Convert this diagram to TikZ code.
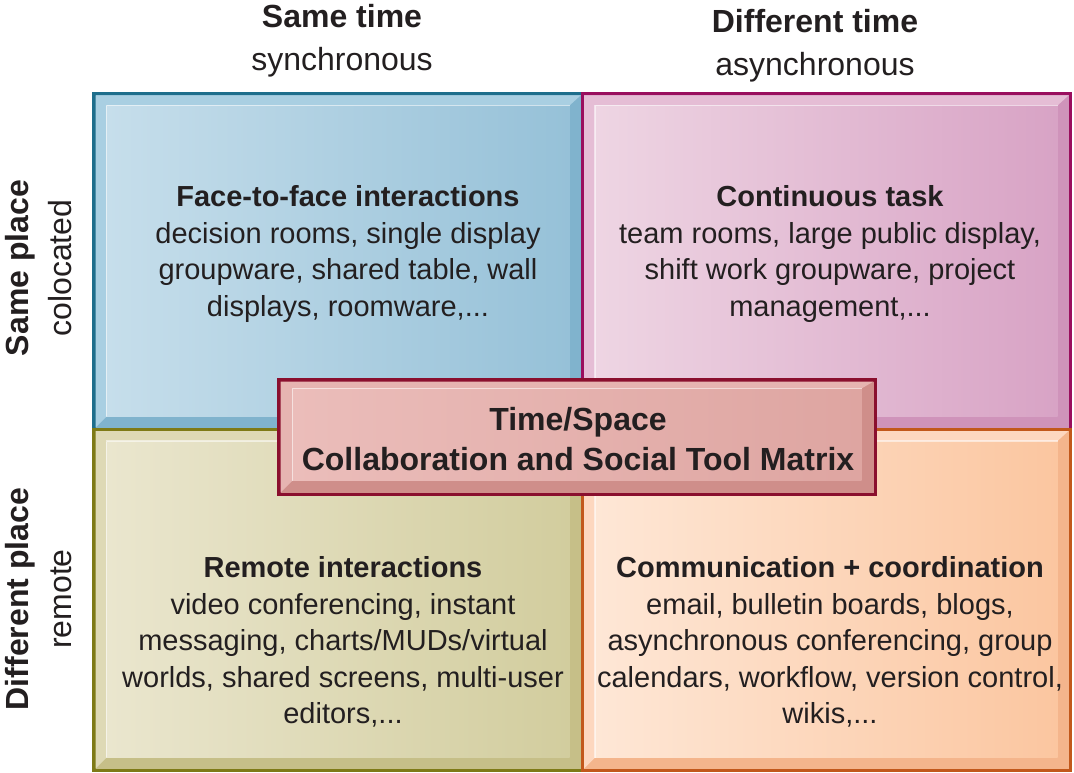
\documentclass[tikz,border=0pt]{standalone}
\usepackage{fontspec}
\setmainfont{Liberation Sans}
\definecolor{txt}{HTML}{231F20}
\definecolor{blueB}{HTML}{1E6E8C}\definecolor{blueT}{HTML}{A9CFE2}\definecolor{blueD}{HTML}{80B3CD}\definecolor{blueL}{HTML}{C6DEEB}\definecolor{blueR}{HTML}{96C1D8}
\definecolor{pinkB}{HTML}{9A0E5E}\definecolor{pinkT}{HTML}{E5BDD5}\definecolor{pinkD}{HTML}{CF93BA}\definecolor{pinkL}{HTML}{EED5E3}\definecolor{pinkR}{HTML}{D8A3C5}
\definecolor{oliveB}{HTML}{7E7A16}\definecolor{oliveT}{HTML}{DED9B5}\definecolor{oliveD}{HTML}{C6BF88}\definecolor{oliveL}{HTML}{EAE6CE}\definecolor{oliveR}{HTML}{D2CD9E}
\definecolor{orB}{HTML}{C2581B}\definecolor{orT}{HTML}{FDD7BF}\definecolor{orD}{HTML}{F4B58C}\definecolor{orL}{HTML}{FEE7D6}\definecolor{orR}{HTML}{FBC6A0}
\definecolor{cenB}{HTML}{8A0F2E}\definecolor{cenT}{HTML}{E6B4B1}\definecolor{cenD}{HTML}{CF8E8A}\definecolor{cenL}{HTML}{EBBDBA}\definecolor{cenR}{HTML}{DEA5A1}
\newcommand\bevbox[7]{%
 \pgfmathsetmacro\bvax{#1+3.5}\pgfmathsetmacro\bvay{#2+3.5}%
 \pgfmathsetmacro\bvbx{#3-3.5}\pgfmathsetmacro\bvby{#4-3.5}%
 \pgfmathsetmacro\bvcx{\bvax+#7}\pgfmathsetmacro\bvcy{\bvay+#6}%
 \pgfmathsetmacro\bvdx{\bvbx-#7}\pgfmathsetmacro\bvdy{\bvby-#7}%
 \fill[#5B] (#1,#2) rectangle (#3,#4);
 \fill[#5D] (\bvax,\bvay) rectangle (\bvbx,\bvby);
 \fill[#5T] (\bvax,\bvay) -- (\bvbx,\bvay) -- (\bvdx,\bvcy) -- (\bvcx,\bvcy) -- (\bvcx,\bvdy) -- (\bvax,\bvby) -- cycle;
 \shade[left color=#5L, right color=#5R] (\bvcx,\bvcy) rectangle (\bvdx,\bvdy);
 \draw[white, opacity=.55, line width=1.5] (\bvcx,\bvdy) -- (\bvcx,\bvcy) -- (\bvdx,\bvcy);
}
\tikzset{
 body/.style={text=txt, align=center, inner sep=0pt, font={\fontsize{29}{36.5}\selectfont}},
 head/.style={text=txt, align=center, inner sep=0pt, font={\fontsize{32}{43}\selectfont}},
 ctext/.style={text=txt, align=center, inner sep=0pt, font={\bfseries\fontsize{32}{40}\selectfont}}
}
\begin{document}
\begin{tikzpicture}[x=1pt,y=-1pt]
\useasboundingbox (0,0) rectangle (1074,773);
\bevbox{92}{92}{584}{431}{blue}{10}{11}
\bevbox{580.5}{92}{1072}{431}{pink}{10}{11}
\bevbox{92}{427.5}{584}{772}{olive}{10}{11}
\bevbox{580.5}{427.5}{1072}{772}{or}{10}{11}
\bevbox{277}{378}{877}{496}{cen}{7}{12}

\node[head] (st) at (342,41) {\textbf{Same time}\\synchronous};
\node[head] (dt) at (815,46) {\textbf{Different time}\\asynchronous};
\node[head, rotate=90] (sp) at (39,268) {\textbf{Same place}\\colocated};
\node[head, rotate=90] (dp) at (39,599) {\textbf{Different place}\\remote};

\node[body] (tl) at (348,254) {\textbf{Face-to-face interactions}\\decision rooms, single display\\groupware, shared table, wall\\displays, roomware,...};
\node[body] (tr) at (830,254) {\textbf{Continuous task}\\team rooms, large public display,\\shift work groupware, project\\management,...};
\node[body] (bl) at (343,642) {\textbf{Remote interactions}\\video conferencing, instant\\messaging, charts/MUDs/virtual\\worlds, shared screens, multi-user\\editors,...};
\node[body] (br) at (830,642) {\textbf{Communication + coordination}\\email, bulletin boards, blogs,\\asynchronous conferencing, group\\calendars, workflow, version control,\\wikis,...};
\node[ctext] (cm) at (578,439) {Time/Space\\Collaboration and Social Tool Matrix};
\end{tikzpicture}
\end{document}
